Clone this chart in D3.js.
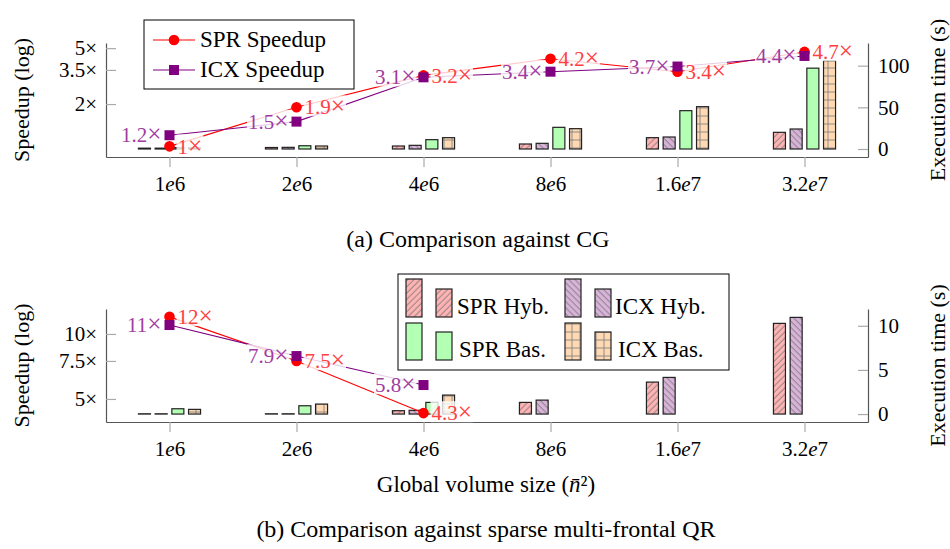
<!DOCTYPE html>
<html>
<head>
<meta charset="utf-8">
<title>Speedup</title>
<script src="https://cdnjs.cloudflare.com/ajax/libs/d3/7.8.5/d3.min.js"></script>
<style>
  body { margin: 0; background: #fff; }
  text { font-family: "Liberation Serif", serif; }
</style>
</head>
<body>
<div id="vis"></div>
<script>
var sizes = ["1e6", "2e6", "4e6", "8e6", "1.6e7", "3.2e7"];
var barSeries = ["SPR Hyb.", "ICX Hyb.", "SPR Bas.", "ICX Bas."];

// (a) against CG
var cgSprSpeedup = [1, 1.9, 3.2, 4.2, 3.4, 4.7];
var cgIcxSpeedup = [1.2, 1.5, 3.1, 3.4, 3.7, 4.4];
var cgSprHyb = [1.0, 1.8, 3.6, 6.0, 13.6, 20];
var cgIcxHyb = [1.0, 2.0, 4.4, 6.8, 14.4, 24];
var cgSprBas = [1.6, 3.9, 11.2, 26, 46, 97];
var cgIcxBas = [1.4, 3.6, 13.6, 24.4, 50.8, 106];
var cgLeftTicks = [2, 3.5, 5];
var cgRightTicks = [0, 50, 100];

// (b) against sparse multi-frontal QR
var qrSprSpeedup = [12, 7.5, 4.3, null, null, null];
var qrIcxSpeedup = [11, 7.9, 5.8, null, null, null];
var qrSprHyb = [0.03, 0.03, 0.38, 1.32, 3.62, 10.27];
var qrIcxHyb = [0.03, 0.03, 0.42, 1.58, 4.15, 10.95];
var qrSprBas = [0.6, 0.94, 1.32, null, null, null];
var qrIcxBas = [0.53, 1.13, 2.15, null, null, null];
var qrLeftTicks = [5, 7.5, 10];
var qrRightTicks = [0, 5, 10];

var W = 950, H = 549, fs = 21, FONT = "Liberation Serif";
var left = 106, right = 868;
var fills = {"SPR Hyb.": "#ffb3b3", "ICX Hyb.": "#d9b3d9", "SPR Bas.": "#b3ffb3", "ICX Bas.": "#ffd9b3"};
var pats = {"SPR Hyb.": "url(#ne)", "ICX Hyb.": "url(#nw)", "SPR Bas.": null, "ICX Bas.": "url(#grid)"};

var svg = d3.select("#vis").append("svg").attr("width", W).attr("height", H);
var defs = svg.append("defs");

function hatch(id, angle) {
  var p = defs.append("pattern").attr("id", id).attr("patternUnits", "userSpaceOnUse")
    .attr("width", 4.4).attr("height", 4.4).attr("patternTransform", "rotate(" + angle + ")");
  p.append("line").attr("x1", 2).attr("x2", 2).attr("y1", 0).attr("y2", 4.4)
    .attr("stroke", "#777").attr("stroke-width", 0.8);
}
hatch("ne", 45);
hatch("nw", -45);
var gp = defs.append("pattern").attr("id", "grid").attr("patternUnits", "userSpaceOnUse")
  .attr("width", 8).attr("height", 8);
gp.append("path").attr("d", "M4,0V8M0,4H8").attr("stroke", "#777").attr("stroke-width", 0.8);

var x = d3.scalePoint().domain(sizes).range([left, right]).padding(0.5);
var off = d3.scaleBand().domain(barSeries).range([-33.4, 33.4]).paddingInner(0.28).paddingOuter(0.14);

function bar(g, sx, sy, name, v) {
  var x0 = sx + off(name), y0 = sy(0), y1 = sy(v);
  g.append("rect").attr("x", x0).attr("y", y1).attr("width", off.bandwidth()).attr("height", y0 - y1)
    .attr("fill", fills[name]);
  if (pats[name]) g.append("rect").attr("x", x0).attr("y", y1).attr("width", off.bandwidth())
    .attr("height", y0 - y1).attr("fill", pats[name]);
  g.append("rect").attr("x", x0).attr("y", y1).attr("width", off.bandwidth()).attr("height", y0 - y1)
    .attr("fill", "none").attr("stroke", "#222").attr("stroke-width", 1.2);
}

function styleAxis(a) {
  a.select(".domain").attr("stroke", "#555").attr("stroke-width", 1.2);
  a.selectAll(".tick line").attr("stroke", "#aaa").attr("stroke-width", 1.2);
  a.selectAll("text").attr("font-size", fs).attr("font-family", FONT).attr("fill", "#000");
  a.attr("font-family", null).attr("font-size", null);
}

// "×" is set a bit larger, closer to the reference glyph
function times(t, v) {
  t.append("tspan").text(v);
  t.append("tspan").attr("font-size", fs * 1.2).text("×");
}

function panel(o) {
  var g = svg.append("g");
  var yL = d3.scaleLog().domain(o.logDomain).range([o.bottom, o.top]);
  var yR = d3.scaleLinear().domain(o.linDomain).range([o.bottom, o.top]);

  // bars
  var bg = g.append("g");
  sizes.forEach(function(s, i) {
    [o.sprHyb, o.icxHyb, o.sprBas, o.icxBas].forEach(function(arr, k) {
      if (arr[i] != null) bar(bg, x(s), yR, barSeries[k], arr[i]);
    });
  });

  // axes
  var ax = g.append("g").attr("transform", "translate(0," + o.bottom + ")")
    .call(d3.axisBottom(x).tickSize(10).tickSizeOuter(0).tickPadding(9));
  styleAxis(ax);
  ax.selectAll(".tick text").each(function(d) {
    var t = d3.select(this).text(""), p = d.split("e");
    t.append("tspan").text(p[0]);
    t.append("tspan").attr("font-style", "italic").text("e");
    t.append("tspan").text(p[1]);
  });
  var al = g.append("g").attr("transform", "translate(" + left + ",0)")
    .call(d3.axisLeft(yL).tickValues(o.leftTicks).tickSize(-10).tickSizeOuter(0).tickPadding(9)
      .tickFormat(function(d) { return d + "×"; }));
  styleAxis(al);
  var ar = g.append("g").attr("transform", "translate(" + right + ",0)")
    .call(d3.axisRight(yR).tickValues(o.rightTicks).tickSize(-10).tickSizeOuter(0).tickPadding(10));
  styleAxis(ar);

  // speedup lines
  var lines = [
    {v: o.spr, color: "#ff0000", text: "#ff4040", shape: "circle", side: 1},
    {v: o.icx, color: "#800080", text: "#a03ca0", shape: "square", side: -1}
  ];
  var line = d3.line().defined(function(d) { return d[1] != null; })
    .x(function(d) { return x(d[0]); }).y(function(d) { return yL(d[1]); });
  lines.forEach(function(L) {
    var pts = sizes.map(function(s, i) { return [s, L.v[i]]; });
    g.append("path").attr("d", line(pts)).attr("fill", "none").attr("stroke", L.color).attr("stroke-width", 1.1);
  });
  lines.forEach(function(L) {
    sizes.forEach(function(s, i) {
      if (L.v[i] == null) return;
      if (L.shape == "circle") g.append("circle").attr("cx", x(s)).attr("cy", yL(L.v[i])).attr("r", 5.3).attr("fill", L.color);
      else g.append("rect").attr("x", x(s) - 5).attr("y", yL(L.v[i]) - 5).attr("width", 10).attr("height", 10).attr("fill", L.color);
    });
  });
  lines.forEach(function(L) {
    sizes.forEach(function(s, i) {
      if (L.v[i] == null) return;
      var lg = g.append("g");
      var px = x(s) + L.side * 8, py = yL(L.v[i]);
      var bgr = lg.append("rect").attr("fill", "#fff").attr("fill-opacity", 0.8);
      var t = lg.append("text").attr("x", px).attr("y", py).attr("dy", "0.34em")
        .attr("text-anchor", L.side > 0 ? "start" : "end").attr("font-size", fs).attr("fill", L.text);
      times(t, L.v[i]);
      var b = t.node().getBBox();
      bgr.attr("x", b.x - 1).attr("y", b.y + 3).attr("width", b.width + 2).attr("height", b.height - 6);
    });
  });

  // axis titles
  g.append("text").attr("transform", "translate(29," + (o.top + o.bottom) / 2 + ") rotate(-90)")
    .attr("text-anchor", "middle").attr("font-size", fs + 1).text("Speedup (log)");
  g.append("text").attr("transform", "translate(945," + (o.top + o.bottom) / 2 + ") rotate(-90)")
    .attr("text-anchor", "middle").attr("font-size", fs + 1).text("Execution time (s)");
  return g;
}

panel({top: 43, bottom: 157, logDomain: [0.84, 5.44], linDomain: [-9.6, 127.2],
  spr: cgSprSpeedup, icx: cgIcxSpeedup, sprHyb: cgSprHyb, icxHyb: cgIcxHyb, sprBas: cgSprBas, icxBas: cgIcxBas,
  leftTicks: cgLeftTicks, rightTicks: cgRightTicks});
panel({top: 309, bottom: 422, logDomain: [3.91, 13.05], linDomain: [-0.9, 11.9],
  spr: qrSprSpeedup, icx: qrIcxSpeedup, sprHyb: qrSprHyb, icxHyb: qrIcxHyb, sprBas: qrSprBas, icxBas: qrIcxBas,
  leftTicks: qrLeftTicks, rightTicks: qrRightTicks});

// legend (a)
var lg1 = svg.append("g");
lg1.append("rect").attr("x", 144).attr("y", 20).attr("width", 210).attr("height", 69)
  .attr("fill", "#fff").attr("stroke", "#000").attr("stroke-width", 1);
[["SPR Speedup", "#ff0000", "circle", 40], ["ICX Speedup", "#800080", "square", 70]].forEach(function(e) {
  lg1.append("line").attr("x1", 153).attr("x2", 195).attr("y1", e[3]).attr("y2", e[3]).attr("stroke", e[1]).attr("stroke-width", 1.1);
  if (e[2] == "circle") lg1.append("circle").attr("cx", 174).attr("cy", e[3]).attr("r", 5.3).attr("fill", e[1]);
  else lg1.append("rect").attr("x", 169).attr("y", e[3] - 5).attr("width", 10).attr("height", 10).attr("fill", e[1]);
  lg1.append("text").attr("x", 200).attr("y", e[3] + 7).attr("font-size", fs + 2).text(e[0]);
});

// legend (b)
var lg2 = svg.append("g");
lg2.append("rect").attr("x", 398).attr("y", 274).attr("width", 331).attr("height", 96)
  .attr("fill", "#fff").attr("stroke", "#000").attr("stroke-width", 1);
var legPos = [[406, 279, 289, 317, 457], [565, 279, 289, 317, 615], [406, 323, 332, 360, 459], [565, 323, 332, 360, 618]];
barSeries.forEach(function(name, k) {
  var p = legPos[k];
  [[p[0], p[1]], [p[0] + 30, p[2]]].forEach(function(r) {
    lg2.append("rect").attr("x", r[0]).attr("y", r[1]).attr("width", 16).attr("height", p[3] - r[1]).attr("fill", fills[name]);
    if (pats[name]) lg2.append("rect").attr("x", r[0]).attr("y", r[1]).attr("width", 16).attr("height", p[3] - r[1]).attr("fill", pats[name]);
    lg2.append("rect").attr("x", r[0]).attr("y", r[1]).attr("width", 16).attr("height", p[3] - r[1])
      .attr("fill", "none").attr("stroke", "#222").attr("stroke-width", 1.2);
  });
  lg2.append("text").attr("x", p[4]).attr("y", p[3] - 3).attr("font-size", fs + 2).text(name);
});

// titles
var xl = svg.append("text").attr("x", 486).attr("y", 492).attr("text-anchor", "middle").attr("font-size", fs + 2);
xl.append("tspan").text("Global volume size (");
xl.append("tspan").attr("font-style", "italic").text("n\u0304");
xl.append("tspan").text("\u00b2)");
svg.append("text").attr("x", 478).attr("y", 247).attr("text-anchor", "middle").attr("font-size", fs + 3)
  .text("(a) Comparison against CG");
svg.append("text").attr("x", 486).attr("y", 537).attr("text-anchor", "middle").attr("font-size", fs + 3)
  .text("(b) Comparison against sparse multi-frontal QR");
</script>
</body>
</html>
